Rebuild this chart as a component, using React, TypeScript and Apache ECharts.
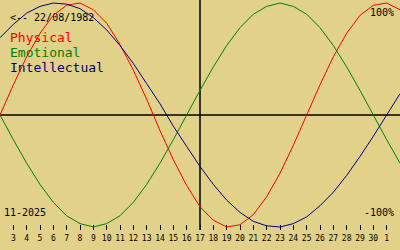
import React, { useEffect, useRef } from "react";
import * as echarts from "echarts";

// Days shown: 2 Nov 2025 .. 2 Dec 2025
const dayLabels = ["2","3","4","5","6","7","8","9","10","11","12","13","14","15","16","17","18","19","20","21","22","23","24","25","26","27","28","29","30","1","2"];
const todayLabel = "17";

const physical = [0, 0.27, 0.52, 0.73, 0.89, 0.98, 1.0, 0.94, 0.82, 0.63, 0.4, 0.14, -0.14, -0.4, -0.63, -0.82, -0.94, -1.0, -0.98, -0.89, -0.73, -0.52, -0.27, 0, 0.27, 0.52, 0.73, 0.89, 0.98, 1.0, 0.94];
const emotional = [0, -0.22, -0.43, -0.62, -0.78, -0.9, -0.97, -1.0, -0.97, -0.9, -0.78, -0.62, -0.43, -0.22, 0, 0.22, 0.43, 0.62, 0.78, 0.9, 0.97, 1.0, 0.97, 0.9, 0.78, 0.62, 0.43, 0.22, 0, -0.22, -0.43];
const intellectual = [0.69, 0.81, 0.91, 0.97, 1.0, 0.99, 0.95, 0.87, 0.76, 0.62, 0.46, 0.28, 0.1, -0.1, -0.28, -0.46, -0.62, -0.76, -0.87, -0.95, -0.99, -1.0, -0.97, -0.91, -0.81, -0.69, -0.54, -0.37, -0.19, 0, 0.19];

const seriesNames = ["Physical", "Emotional", "Intellectual"];
const seriesColors = ["#ff0000", "#008000", "#000080"];
const birthText = "<-- 22/08/1982";
const monthText = "11-2025";
const topText = "100%";
const bottomText = "-100%";

const MONO = "DejaVu Sans Mono";

export default function App() {
  const ref = useRef<HTMLDivElement>(null);
  useEffect(() => {
    const chart = echarts.init(ref.current!, null, { renderer: "svg" });
    const data = [physical, emotional, intellectual];
    const last = dayLabels.length - 1;
    chart.setOption({
      animation: false,
      backgroundColor: "#e1d189",
      grid: { left: 0, right: 0, top: 0, height: 230 },
      xAxis: {
        type: "category",
        data: dayLabels,
        boundaryGap: false,
        axisLine: { show: false, onZero: false },
        axisTick: {
          show: true,
          inside: true,
          length: 5,
          interval: (i: number) => i > 0 && i < last,
          lineStyle: { color: "#000", width: 1 },
        },
        axisLabel: {
          interval: (i: number) => i > 0 && i < last,
          margin: 4,
          color: "#000",
          fontFamily: MONO,
          fontSize: 8,
          verticalAlign: "top",
        },
        splitLine: { show: false },
      },
      yAxis: {
        type: "value",
        min: -1.027,
        max: 1.027,
        show: false,
        splitLine: { show: false },
      },
      series: data.map((d, i) => ({
        type: "line",
        name: seriesNames[i],
        data: d,
        symbol: "none",
        smooth: false,
        lineStyle: { color: seriesColors[i], width: 1 },
        z: 3,
        ...(i === 0
          ? {
              markLine: {
                silent: true,
                symbol: "none",
                label: { show: false },
                lineStyle: { color: "#000", width: 1.5, type: "solid" },
                data: [{ yAxis: 0 }, { xAxis: todayLabel }],
                z: 1,
              },
            }
          : {}),
      })),
      graphic: [
        { type: "text", left: 10, top: 12, style: { text: birthText, font: `10px '${MONO}'`, fill: "#000" } },
        ...seriesNames.map((n, i) => ({
          type: "text",
          left: 10,
          top: 31 + i * 15,
          style: { text: n, font: `13px '${MONO}'`, fill: seriesColors[i] },
        })),
        { type: "text", right: 6, top: 7, style: { text: topText, font: `10px '${MONO}'`, fill: "#000" } },
        { type: "text", right: 6, top: 207, style: { text: bottomText, font: `10px '${MONO}'`, fill: "#000" } },
        { type: "text", left: 4, top: 207, style: { text: monthText, font: `10px '${MONO}'`, fill: "#000" } },
      ],
    });
    return () => chart.dispose();
  }, []);
  return (
    <div
      ref={ref}
      style={{ position: "absolute", left: 0, top: 0, width: 400, height: 250 }}
    />
  );
}
